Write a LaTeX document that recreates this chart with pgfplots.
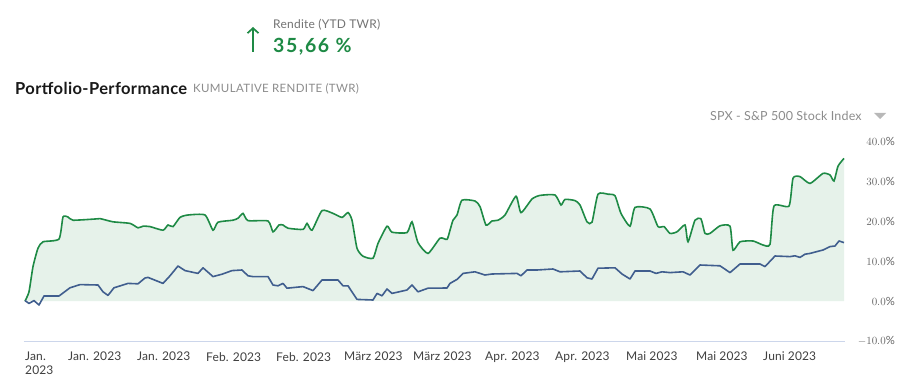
\documentclass[border=0pt]{standalone}
\usepackage{pgfplots}
\pgfplotsset{compat=1.18}
\usepackage{pgfplotstable}
\usepackage{fontspec}
\setmainfont{Lato}
\usetikzlibrary{arrows.meta}
\definecolor{grn}{HTML}{1E8A45}
\definecolor{blu}{HTML}{405E8E}
\definecolor{gridc}{HTML}{E3E3E3}
\definecolor{axc}{HTML}{CCD6EB}
\newcommand\fs[3]{\fontsize{#1}{#2}\selectfont\addfontfeatures{LetterSpace=#3}}

\pgfplotstableread{
x y
25 0
29 2.3
33 8.6
38 13.2
43 14.8
59 15.5
63 21
68 21
73 20.2
95 20.5
100 20.6
113 19.8
130 19.4
138 18.3
143 18.7
150 18.6
163 17.7
168 19
173 18.6
180 20.9
188 21.5
205 21.5
213 17.7
218 19.7
233 20.2
238 20.7
243 21.9
248 20.1
268 20
273 17.3
279 19
283 19
288 18.2
303 17.9
307 19.4
312 17.7
322 22.6
333 21.9
342 20.9
348 22.1
352 20.2
357 13.2
363 11.2
373 10.7
378 14.4
387 18.7
392 17.2
407 17.1
412 19.8
418 14.6
428 11.9
440 15.7
447 15.4
450 17.7
453 20.2
457 21.5
462 25.2
475 25
480 23.6
486 19
492 20
498 20.2
505 21.5
516 26.2
521 22.1
532 25.5
540 26.4
555 26.5
561 24
565 25.4
575 25.1
580 24
587 19.8
592 19.7
598 26.7
608 26.7
615 26.3
621 21.9
630 18.7
635 23.4
650 23
658 18.6
664 18.6
670 16.9
677 17.3
685 19
688 14.8
695 20.2
701 20.5
705 16.9
710 16.9
720 18.8
730 18.7
733 12.7
740 14.8
753 15
763 14
770 14.2
774 23.75
789 23.75
793 30.7
800 31.1
810 29.4
823 31.9
830 31.5
834 30
838 33.7
844 35.66
}\greendata

\pgfplotstableread{
x y
25 0.1
29 -0.6
34 0.1
39 -1
44 1.25
59 1.25
70 3.3
80 4.1
98 4
103 2.3
108 1.4
114 3.3
128 4.4
138 4.3
145 5.75
148 5.9
163 4.4
170 6.3
178 8.75
185 7.6
198 6.9
203 8.3
213 6.1
222 6.7
232 7.6
242 7.75
248 6.3
253 6.1
268 6.1
273 4
278 3.8
283 4.4
287 3.2
303 3.6
313 2.6
322 5.25
338 5.25
343 3.8
348 3.8
357 0.4
373 0.25
377 1.9
382 1.3
387 3
392 1.9
407 2.75
412 4
418 2.3
428 3.2
447 3.25
450 4.4
457 5.4
463 6.9
475 7.3
485 6.5
492 6.75
517 6.9
521 6.3
527 7.75
537 7.75
553 8
560 7.3
580 7.5
587 5.8
592 5.5
598 8.2
615 8.3
622 6.75
630 5.5
635 7.5
650 7.5
656 6.9
662 7.3
670 7.1
683 7.3
690 6.5
700 9
720 8.8
730 7.1
740 9.25
760 9.25
765 8.6
775 11.25
790 11.1
795 11.3
800 10.9
805 11.7
810 11.9
823 12.75
830 13.6
835 13.75
839 15
844 14.6
}\bluedata

\begin{document}
\begin{tikzpicture}[x=1pt,y=1pt]
\useasboundingbox (0,0) rectangle (901,386);
\fill[white] (0,0) rectangle (901,386);

% header texts
\draw[grn, line width=1.7pt, -{Straight Barb[length=5pt,width=11pt,line width=1.7pt]}] (253,334) -- (253,359);
\node[anchor=west, inner sep=0pt, text=black!55, font=\fs{12}{14}{2}] at (273,361) {Rendite (YTD TWR)};
\node[anchor=west, inner sep=0pt, text=grn, font=\fs{19.5}{22}{8}\bfseries] at (273,339) {35,66 \%};
\node[anchor=west, inner sep=0pt, text=black!90, font=\fs{16.5}{18}{2.4}\bfseries] at (15,298) {Portfolio-Performance};
\node[anchor=west, inner sep=0pt, text=black!45, font=\fs{11.5}{13}{3}] at (193,297.5) {KUMULATIVE RENDITE (TWR)};
\node[anchor=west, inner sep=0pt, text=black!45, font=\fs{12.5}{14}{1.3}] at (710,270) {SPX - S\&P 500 Stock Index};
\fill[black!28] (874,273) -- (886,273) -- (880,267) -- cycle;

\begin{axis}[
  at={(24pt,45pt)}, anchor=south west,
  scale only axis, width=821pt, height=200pt,
  xmin=24, xmax=845, ymin=-10, ymax=40,
  axis y line=none,
  axis x line*=bottom,
  x axis line style={draw=axc, line width=0.8pt, -},
  ymajorgrids, grid style={gridc, line width=0.8pt},
  ytick={-10,0,10,20,30,40},
  xtick={25,68,137,206,276,344,413,485,555,626,696,763},
  xticklabels={{Jan.\\2023},Jan. 2023,Jan. 2023,Feb. 2023,Feb. 2023,März 2023,März 2023,Apr. 2023,Apr. 2023,Mai 2023,Mai 2023,Juni 2023},
  major tick length=0pt,
  xticklabel style={anchor=north west, inner sep=0pt, yshift=-11pt, align=left, text=black!75, font=\fs{12}{14}{1}},
  tick style={draw=none},
  clip=false,
]
\addplot[draw=none, fill=grn, fill opacity=0.11] table {\greendata} \closedcycle;
\addplot[grn, line width=1.6pt, smooth, tension=0.35] table {\greendata};
\addplot[blu, line width=1.6pt, line join=round] table {\bluedata};
\pgfplotsinvokeforeach{-10,0,10,20,30,40}{
  \node[anchor=east, inner sep=0pt, text=black!60, font=\fs{11.3}{12}{6}] at (axis cs:845,#1) [xshift=50pt] {\pgfmathprintnumber[fixed,fixed zerofill,precision=1]{#1}\%};
}
\end{axis}
\end{tikzpicture}
\end{document}
